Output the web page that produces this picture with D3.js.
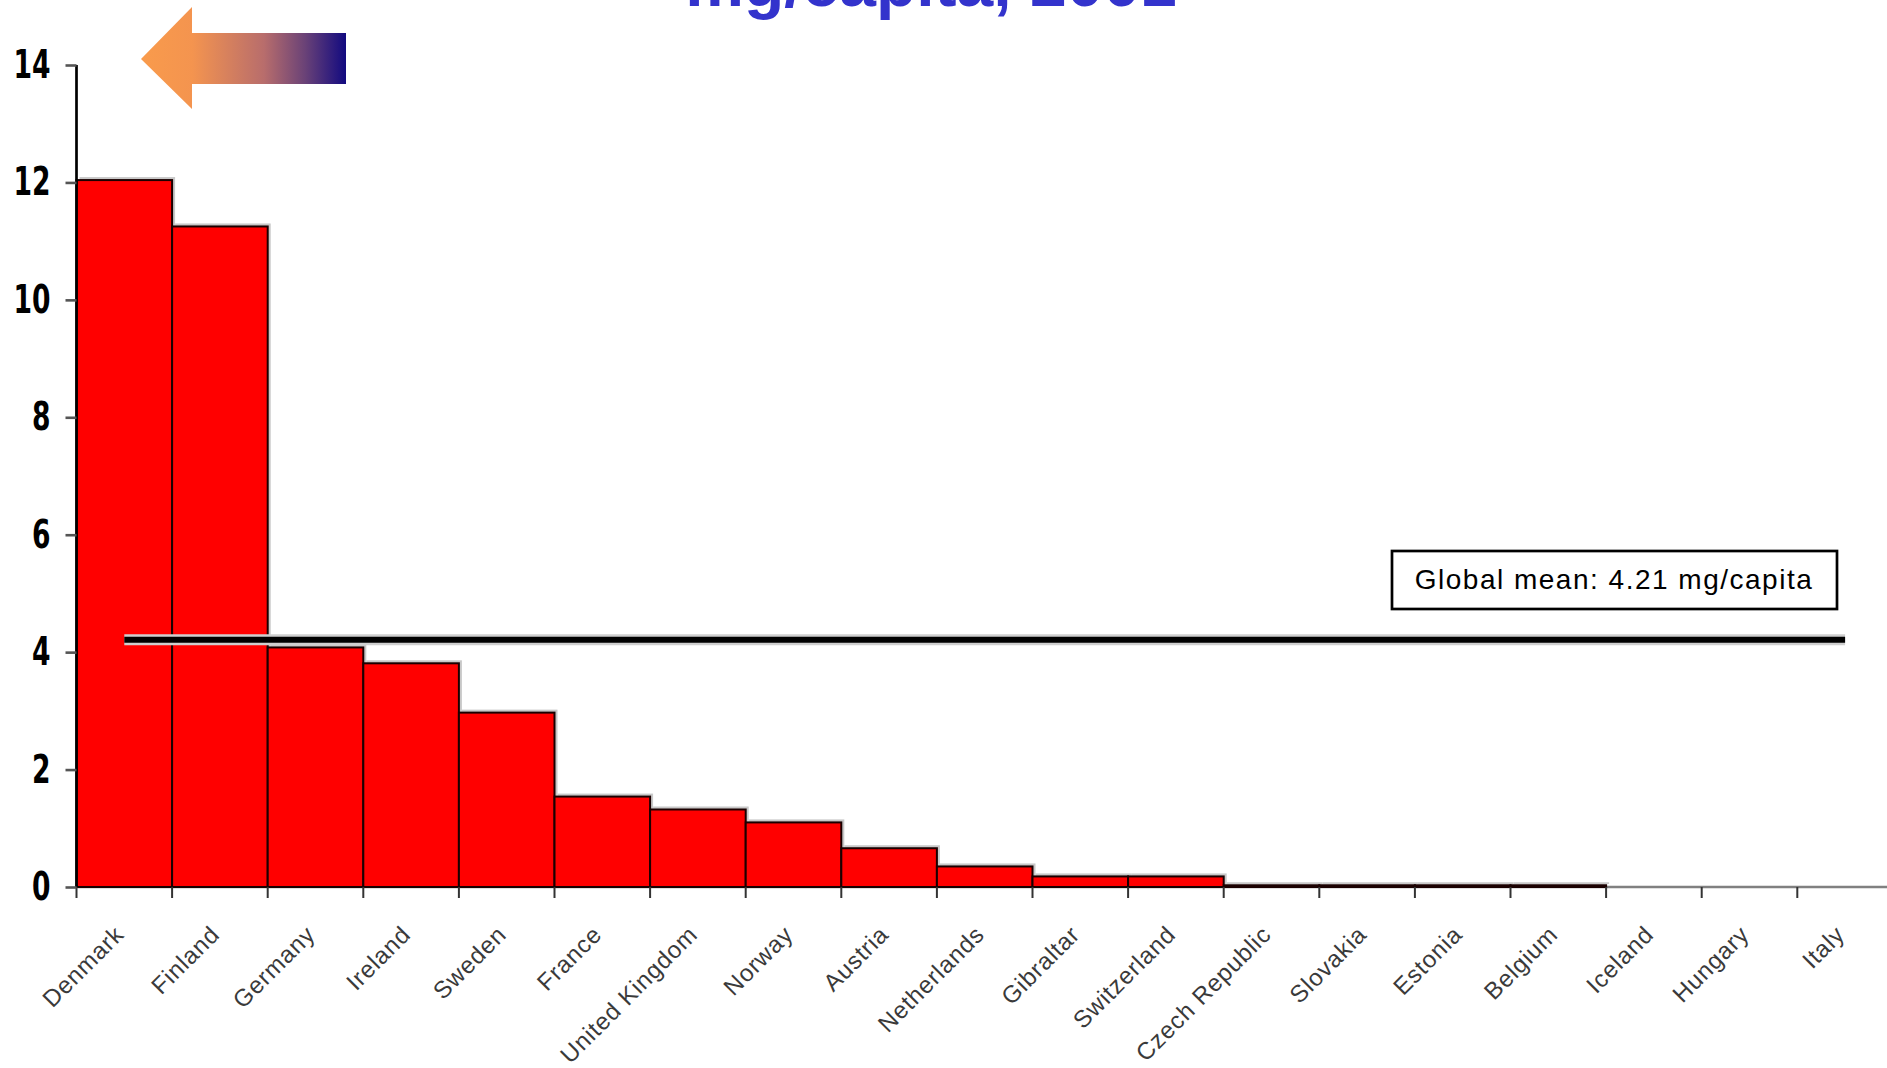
<!DOCTYPE html>
<html>
<head>
<meta charset="utf-8">
<script src="https://cdn.jsdelivr.net/npm/d3@7"></script>
<style>
  html, body { margin: 0; padding: 0; background: #fff; }
  svg { display: block; }
</style>
</head>
<body>
<svg id="chart" width="1887" height="1068"></svg>
<script>
// Consumption per country, mg/capita, 2001
const countries = ["Denmark", "Finland", "Germany", "Ireland", "Sweden", "France",
  "United Kingdom", "Norway", "Austria", "Netherlands", "Gibraltar", "Switzerland",
  "Czech Republic", "Slovakia", "Estonia", "Belgium", "Iceland", "Hungary", "Italy"];
const values = [12.04, 11.25, 4.08, 3.81, 2.97, 1.54, 1.32, 1.10, 0.66, 0.35,
  0.18, 0.18, 0.03, 0.03, 0.03, 0.03, 0, 0, 0];
const yTicks = [0, 2, 4, 6, 8, 10, 12, 14];
const globalMean = 4.21;
const titleText = "mg/capita, 2001";
const meanLabel = "Global mean: 4.21 mg/capita";

const svg = d3.select("#chart");
const plotLeft = 76.5, bandW = 95.6, plotTop = 65, plotBottom = 887;

const x = d3.scaleBand().domain(countries).range([plotLeft, plotLeft + bandW * countries.length]).padding(0);
const y = d3.scaleLinear().domain([0, 14]).range([plotBottom, plotTop]);

// gradient for the direction arrow
const defs = svg.append("defs");
const grad = defs.append("linearGradient").attr("id", "arrowGrad")
  .attr("gradientUnits", "userSpaceOnUse").attr("x1", 141).attr("x2", 346).attr("y1", 0).attr("y2", 0);
[[0, "#f99b4c"], [0.25, "#f4944f"], [0.6, "#b86d6c"], [0.8, "#6a4277"], [1, "#120a80"]]
  .forEach(([o, c]) => grad.append("stop").attr("offset", o).attr("stop-color", c));

// title (second line; the line runs past the top edge of the page)
svg.append("text")
  .attr("x", 931).attr("y", 6)
  .attr("text-anchor", "middle")
  .attr("font-family", "Liberation Sans, Arial, sans-serif")
  .attr("font-weight", "bold")
  .attr("font-size", 66)
  .attr("fill", "#3333cc")
  .text(titleText);

// arrow
svg.append("path")
  .attr("d", "M141,59 L192,7 L192,33 L346,33 L346,84 L192,84 L192,109 Z")
  .attr("fill", "url(#arrowGrad)");

const data = countries.map((c, i) => ({ c, v: values[i] }));
const drawn = data.filter(d => d.v > 0);

// x baseline
svg.append("line")
  .attr("x1", x.range()[0]).attr("x2", x.range()[1])
  .attr("y1", y(0)).attr("y2", y(0))
  .attr("stroke", "#808080").attr("stroke-width", 2.5);

// bar shadows
svg.append("g").selectAll("rect").data(drawn).join("rect")
  .attr("x", d => x(d.c) + 3).attr("y", d => y(d.v) - 3)
  .attr("width", x.bandwidth()).attr("height", d => y(0) - y(d.v))
  .attr("fill", "#c8c8c8");

// bars
svg.append("g").selectAll("rect").data(drawn).join("rect")
  .attr("x", d => x(d.c)).attr("y", d => y(d.v))
  .attr("width", x.bandwidth()).attr("height", d => y(0) - y(d.v))
  .attr("fill", "#ff0000")
  .attr("stroke", "#1a0000").attr("stroke-width", 2);

// boundary ticks on x axis
const bounds = countries.map(c => x(c)).concat([x(countries[countries.length - 1]) + x.bandwidth()]);
svg.append("g").selectAll("line").data(bounds).join("line")
  .attr("x1", d => d).attr("x2", d => d)
  .attr("y1", y(0)).attr("y2", y(0) + 11)
  .attr("stroke", "#333").attr("stroke-width", 2);

// y axis
const yAxis = svg.append("g")
  .attr("transform", `translate(${plotLeft},0)`)
  .call(d3.axisLeft(y).tickValues(yTicks).tickSize(11).tickPadding(15).tickFormat(d3.format("d")));
yAxis.select(".domain").attr("stroke", "#000").attr("stroke-width", 2.7)
  .attr("d", `M0,${plotTop}V${plotBottom}`);
yAxis.selectAll(".tick line").attr("stroke", "#555").attr("stroke-width", 2.6);
yAxis.selectAll(".tick text")
  .attr("font-family", "Liberation Sans Narrow, Arial Narrow, DejaVu Sans Condensed, sans-serif")
  .attr("font-weight", "bold")
  .attr("font-size", 39)
  .attr("textLength", d => String(d).length * 18.5)
  .attr("lengthAdjust", "spacingAndGlyphs")
  .attr("fill", "#000");

// category labels
svg.append("g").selectAll("text").data(countries).join("text")
  .attr("transform", c => `translate(${x(c) + x.bandwidth() / 2 + 1},936) rotate(-45)`)
  .attr("text-anchor", "end")
  .attr("font-family", "Liberation Sans, Arial, sans-serif")
  .attr("font-size", 24)
  .attr("letter-spacing", 0.8)
  .attr("fill", "#3a3a3a")
  .text(c => c);

// global mean line
const xc = c => x(c) + x.bandwidth() / 2;
const meanG = svg.append("g");
meanG.append("line")
  .attr("x1", xc(countries[0])).attr("x2", xc(countries[countries.length - 1]))
  .attr("y1", y(globalMean)).attr("y2", y(globalMean))
  .attr("stroke", "#cfcfcf").attr("stroke-width", 11);
meanG.append("line")
  .attr("x1", xc(countries[0])).attr("x2", xc(countries[countries.length - 1]))
  .attr("y1", y(globalMean)).attr("y2", y(globalMean))
  .attr("stroke", "#000").attr("stroke-width", 6);

// mean label box
svg.append("rect")
  .attr("x", 1392).attr("y", 551).attr("width", 445).attr("height", 58)
  .attr("fill", "#fff").attr("stroke", "#000").attr("stroke-width", 2.7);
svg.append("text")
  .attr("x", 1614).attr("y", 589)
  .attr("text-anchor", "middle")
  .attr("font-family", "Liberation Sans, Arial, sans-serif")
  .attr("font-size", 28)
  .attr("letter-spacing", 1.5)
  .attr("fill", "#000")
  .text(meanLabel);
</script>
</body>
</html>
